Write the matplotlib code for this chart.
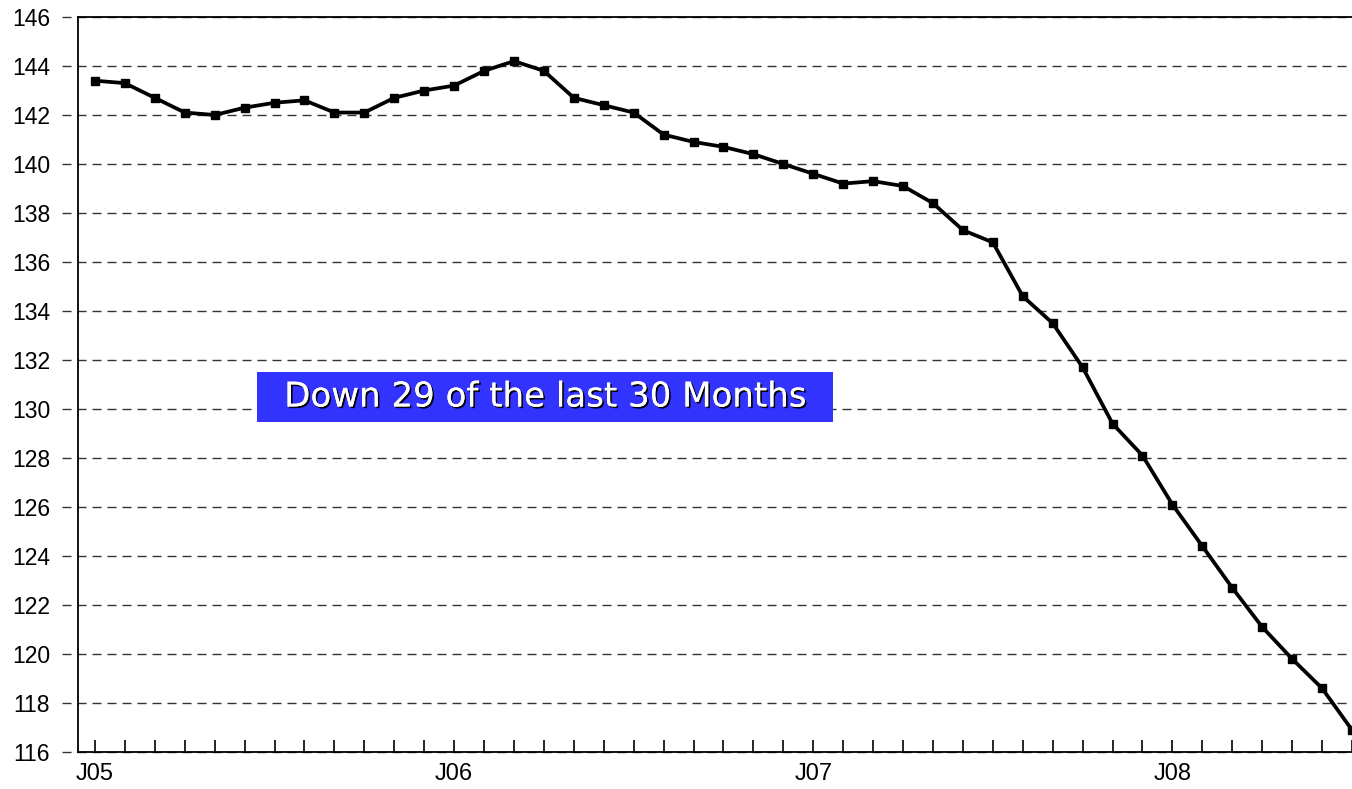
import matplotlib
matplotlib.use("Agg")
import matplotlib.pyplot as plt
import matplotlib.patheffects as pe
from matplotlib.patches import Rectangle

values = [143.4, 143.3, 142.7, 142.1, 142.0, 142.3, 142.5, 142.6, 142.1, 142.1,
          142.7, 143.0, 143.2, 143.8, 144.2, 143.8, 142.7, 142.4, 142.1, 141.2,
          140.9, 140.7, 140.4, 140.0, 139.6, 139.2, 139.3, 139.1, 138.4, 137.3,
          136.8, 134.6, 133.5, 131.7, 129.4, 128.1, 126.1, 124.4, 122.7, 121.1,
          119.8, 118.6, 116.9]
months = list(range(len(values)))
label_positions = [0, 12, 24, 36]
x_labels = ["J05", "J06", "J07", "J08"]
y_ticks = list(range(116, 147, 2))
annotation = "Down 29 of the last 30 Months"

W, H = 1352, 789
fig = plt.figure(figsize=(W / 100, H / 100), dpi=100)
ax = fig.add_axes([78 / W, 1 - 752 / H, (W - 78) / W, (752 - 17) / H])

ax.set_xlim(-0.567, 41.9)
ax.set_ylim(116, 146)

for y in y_ticks:
    ax.axhline(y, xmin=-16 / 1274, xmax=1, color="#333333", lw=1.0,
               dashes=(6.5, 4.3), clip_on=False, zorder=1)

ax.plot(months, values, color="black", lw=2.7, marker="s", markersize=6.3,
        markerfacecolor="black", markeredgecolor="black", zorder=3)

ax.set_yticks(y_ticks)
ax.set_yticklabels([str(v) for v in y_ticks], fontfamily="Liberation Sans", fontsize=16.5)
ax.tick_params(axis="y", length=0, pad=20)

ax.set_xticks(label_positions)
ax.set_xticklabels(x_labels, fontfamily="Liberation Sans", fontsize=17)
ax.set_xticks(months, minor=True)
ax.tick_params(axis="x", which="both", direction="in", length=9, width=1.2,
               color="black", pad=8)

for side in ["left", "top", "bottom"]:
    ax.spines[side].set_linewidth(1.3)
ax.spines["right"].set_visible(False)

rect = Rectangle((0.1405, 0.449), 0.4521, 0.068, transform=ax.transAxes,
                 facecolor="#3333FF", edgecolor="none", zorder=4)
ax.add_patch(rect)
ax.text(0.3666, 0.483, annotation, transform=ax.transAxes, ha="center", va="center",
        color="white", fontsize=24.5, fontfamily="DejaVu Sans", zorder=5,
        path_effects=[pe.withSimplePatchShadow(offset=(1.2, -1.2), shadow_rgbFace="black", alpha=1.0),
                      pe.Normal()])

fig.savefig("out.png", dpi=100)
